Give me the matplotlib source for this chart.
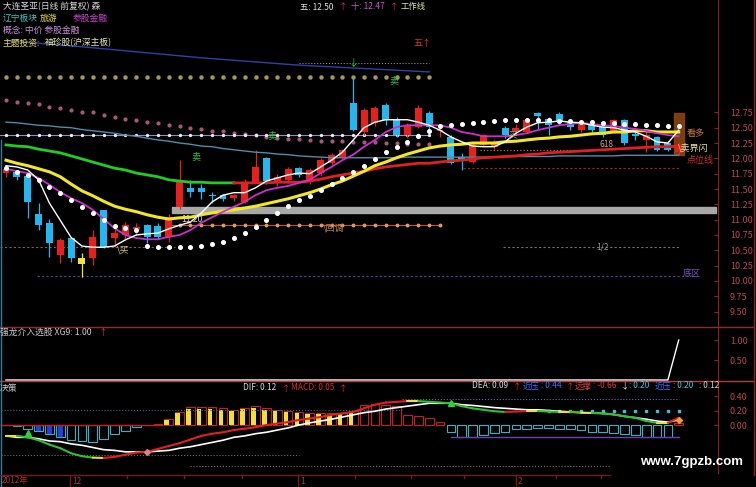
import numpy as np
import matplotlib
matplotlib.use("Agg")
import matplotlib.pyplot as plt
from matplotlib.lines import Line2D
from matplotlib.patches import Rectangle

plt.rcParams['font.family'] = ['Noto Sans CJK SC', 'DejaVu Sans']
plt.rcParams['axes.unicode_minus'] = False

W, H = 756, 487

# K线 (63 根日线)
opens = [11.76,11.78,11.72,11.10,10.94,10.42,10.70,10.38,10.38,11.15,
         10.70,10.75,10.85,10.91,10.90,10.72,11.20,11.52,11.52,11.41,
         11.40,11.35,11.29,11.61,12.00,11.60,11.65,11.84,11.61,11.76,
         11.92,12.02,12.90,12.43,12.57,12.87,12.62,12.38,12.51,12.74,
         12.44,12.35,12.02,11.94,12.22,12.18,12.49,12.44,12.43,12.74,
         12.65,12.72,12.59,12.46,12.54,12.51,12.43,12.62,12.39,12.30,
         12.35,12.25,12.10]
closes = [11.82,11.70,11.28,10.91,10.62,10.67,10.37,10.27,10.72,10.55,
          10.78,10.91,10.88,10.72,10.72,11.04,11.61,11.45,11.45,11.39,
          11.33,11.40,11.60,11.86,11.63,11.70,11.82,11.73,11.81,11.97,
          12.05,12.14,12.46,12.79,12.82,12.62,12.38,12.54,12.82,12.51,
          12.46,11.92,11.96,12.22,12.38,12.27,12.38,12.49,12.62,12.69,
          12.54,12.59,12.51,12.57,12.46,12.38,12.62,12.25,12.37,12.38,
          12.14,12.14,12.22]
highs = [11.86,11.80,11.74,11.27,11.01,10.70,10.72,10.46,10.83,11.16,
         10.86,10.96,10.95,10.93,10.95,11.10,11.97,11.64,11.58,11.45,
         11.42,11.42,11.66,12.13,12.02,11.75,11.86,11.86,11.84,12.00,
         12.08,12.16,13.31,12.82,12.85,12.90,12.68,12.58,12.87,12.77,
         12.52,12.38,12.08,12.25,12.40,12.30,12.52,12.56,12.65,12.76,
         12.68,12.75,12.62,12.60,12.57,12.53,12.65,12.64,12.45,12.46,
         12.37,12.28,12.26]
lows = [11.70,11.65,11.03,10.83,10.39,10.29,10.31,10.07,10.26,10.54,
        10.55,10.67,10.75,10.62,10.68,10.64,11.18,11.37,11.33,11.27,
        11.30,11.30,11.27,11.60,11.58,11.55,11.60,11.70,11.58,11.72,
        11.88,12.00,12.44,12.38,12.52,12.55,12.35,12.33,12.49,12.46,
        12.35,11.90,11.81,11.92,12.20,12.15,12.33,12.40,12.41,12.48,
        12.38,12.55,12.47,12.43,12.43,12.35,12.41,12.22,12.30,12.10,
        12.12,12.12,12.06]
yellow_candle = 7

# 均线
ma5 = [11.88,11.86,11.81,11.65,11.27,10.99,10.71,10.57,10.55,10.55,
       10.57,10.67,10.75,10.77,10.78,10.85,10.91,10.96,11.11,11.29,
       11.40,11.44,11.44,11.52,11.63,11.68,11.73,11.76,11.75,11.86,
       11.97,12.10,12.30,12.50,12.59,12.63,12.63,12.63,12.59,12.54,
       12.46,12.35,12.27,12.20,12.19,12.19,12.27,12.41,12.51,12.58,
       12.59,12.61,12.59,12.58,12.54,12.51,12.50,12.46,12.43,12.36,
       12.27,12.25,12.46]
ma10 = [11.83,11.79,11.76,11.68,11.57,11.45,11.35,11.27,11.16,11.01,
        10.86,10.75,10.70,10.68,10.68,10.72,10.75,10.83,10.95,11.04,
        11.13,11.21,11.29,11.40,11.48,11.52,11.55,11.60,11.65,11.76,
        11.86,11.97,12.06,12.19,12.30,12.43,12.51,12.54,12.54,12.54,
        12.54,12.50,12.43,12.40,12.36,12.36,12.36,12.38,12.41,12.46,
        12.50,12.54,12.56,12.58,12.56,12.54,12.53,12.50,12.48,12.45,
        12.41,12.38,12.36]
ma20 = [11.97,11.92,11.88,11.83,11.78,11.70,11.58,11.47,11.39,11.30,
        11.22,11.17,11.13,11.08,11.04,11.01,11.03,11.04,11.08,11.11,
        11.14,11.16,11.19,11.22,11.26,11.30,11.34,11.39,11.44,11.50,
        11.57,11.63,11.71,11.79,11.88,11.94,12.01,12.07,12.12,12.17,
        12.20,12.22,12.23,12.25,12.25,12.25,12.27,12.28,12.30,12.32,
        12.33,12.35,12.36,12.38,12.40,12.41,12.43,12.43,12.45,12.45,
        12.43,12.43,12.43]
ma60 = [12.22,12.20,12.19,12.15,12.12,12.09,12.04,11.99,11.94,11.89,
        11.84,11.81,11.76,11.73,11.70,11.65,11.63,11.61,11.61,11.60,
        11.60,11.60,11.60,11.60,11.60,11.61,11.61,11.61,11.63,11.66,
        11.70,11.73,11.76,11.79,11.83,11.86,11.88,11.90,11.92,11.92,
        11.94,11.96,11.97,11.99,12.01,12.02,12.03,12.04,12.06,12.07,
        12.09,12.10,12.11,12.12,12.13,12.14,12.15,12.16,12.17,12.18,
        12.19,12.19,12.20]
ma60_green_end = 21
ma120 = [12.59,12.58,12.56,12.54,12.53,12.51,12.50,12.47,12.45,12.43,
         12.41,12.38,12.36,12.33,12.30,12.28,12.25,12.23,12.20,12.19,
         12.16,12.14,12.12,12.10,12.09,12.07,12.06,12.04,12.03,12.02,
         12.01,12.01,12.01,12.01,12.01,12.01,12.01,12.02,12.02,12.02,
         12.02,12.02,12.02,12.02,12.02,12.02,12.03,12.03,12.03,12.03,
         12.03,12.04,12.04,12.04,12.04,12.04,12.04,12.05,12.05,12.05,
         12.05,12.05,12.05]
sar = [11.84,11.78,11.73,11.65,11.53,11.44,11.32,11.21,11.11,10.99,
       10.90,10.86,10.83,10.57,10.55,10.55,10.55,10.55,10.57,10.60,
       10.64,10.70,10.78,10.88,10.99,11.11,11.22,11.32,11.39,11.48,
       11.58,11.68,11.78,11.88,11.99,12.10,12.19,12.27,12.36,12.45,
       12.53,12.54,12.56,12.58,12.59,12.61,12.63,12.63,12.63,12.63,
       12.63,12.61,12.61,12.59,12.59,12.58,12.58,12.56,12.56,12.54,
       12.54,12.53,12.53]
pink_dots = [12.95,12.92,12.90,12.88,12.84,12.82,12.79,12.76,12.75,12.71,
             12.68,12.65,12.63,12.60,12.57,12.54,12.52,12.49,12.48,12.45,
             12.44,12.42,12.40,12.38,12.35,12.34,12.32,12.31,12.30,12.29,
             12.28,12.28,12.27,12.27,12.26,12.25,12.25,12.24,12.23,12.23]
blue_idx = [0, 7, 18, 27, 39]
blue_val = [13.92, 13.82, 13.64, 13.52, 13.41]

# 水平位
khaki_level = 13.33
gray_top_level = 13.556
lavender_level = 12.38
band_lo, band_hi = 11.11, 11.21
pullback_level = 10.91
half_level = 10.55
bottom_level = 10.08
point_level = 11.84
fib_level = 12.14

# 副图
xg9 = [0.0] * 62 + [1.0]
hist = [0.0,-0.02,-0.05,-0.08,-0.12,-0.17,-0.21,-0.22,-0.23,-0.19,
        -0.13,-0.08,-0.03,0.0,0.01,0.08,0.18,0.25,0.25,0.25,
        0.23,0.21,0.24,0.26,0.23,0.21,0.20,0.18,0.17,0.17,
        0.16,0.17,0.20,0.28,0.29,0.28,0.26,0.14,0.13,0.09,
        0.04,-0.09,-0.16,-0.16,-0.14,-0.11,-0.09,-0.06,-0.05,-0.04,
        -0.04,-0.05,-0.06,-0.07,-0.09,-0.09,-0.11,-0.12,-0.14,-0.16,
        -0.16,-0.16,0.03]
dif = [-0.15,-0.15,-0.17,-0.21,-0.27,-0.32,-0.39,-0.43,-0.45,-0.455,
       -0.44,-0.41,-0.38,-0.37,-0.33,-0.29,-0.25,-0.20,-0.15,-0.12,
       -0.10,-0.07,-0.05,-0.03,0.0,0.02,0.04,0.07,0.09,0.11,
       0.14,0.16,0.18,0.23,0.28,0.31,0.32,0.33,0.33,0.32,
       0.31,0.30,0.26,0.23,0.21,0.19,0.18,0.186,0.193,0.193,
       0.186,0.18,0.18,0.17,0.166,0.16,0.145,0.12,0.10,0.055,
       0.03,0.03,0.10]
dea = [-0.15,-0.17,-0.17,-0.19,-0.22,-0.23,-0.26,-0.28,-0.31,-0.34,
       -0.35,-0.37,-0.37,-0.37,-0.36,-0.35,-0.32,-0.30,-0.27,-0.24,
       -0.21,-0.17,-0.15,-0.12,-0.10,-0.07,-0.04,0.0,0.03,0.055,
       0.08,0.11,0.14,0.17,0.19,0.22,0.24,0.26,0.28,0.30,
       0.30,0.30,0.28,0.27,0.255,0.24,0.23,0.22,0.21,0.21,
       0.20,0.19,0.18,0.17,0.166,0.16,0.145,0.12,0.10,0.08,
       0.055,0.04,0.07]

RED, CYAN, YEL = '#e8201c', '#24b6ee', '#f4e040'

fig = plt.figure(figsize=(W / 100, H / 100), dpi=100, facecolor='black')

def rect(y0, y1):
    return [0, 1 - y1 / H, 718 / W, (y1 - y0) / H]

ax = fig.add_axes(rect(0, 327))
ax2 = fig.add_axes(rect(327, 381))
ax3 = fig.add_axes(rect(381, 473))
for a in (ax, ax2, ax3):
    a.set_facecolor('black')
    a.set_xlim(-0.553, 65.62)
    for s in ('left', 'top', 'bottom'):
        a.spines[s].set_visible(False)
    a.spines['right'].set_color('#8c2020')
    a.yaxis.tick_right()
    a.tick_params(axis='y', colors='#8c2020', labelcolor='#b84a4a',
                  labelsize=6.5, direction='in', length=3, pad=8.5)
    a.tick_params(axis='x', bottom=False, labelbottom=False)

ax.set_ylim(9.249, 14.583)
ax.set_yticks(np.arange(9.5, 12.76, 0.25))
ax.set_yticklabels(['%.2f' % v for v in np.arange(9.5, 12.76, 0.25)])
ax2.set_ylim(-0.025, 1.325)
ax2.set_yticks([0.5, 1.0])
ax2.set_yticklabels(['0.50', '1.00'])
ax3.set_ylim(-0.662, 0.607)
ax3.set_yticks([0.0, 0.2, 0.4])
ax3.set_yticklabels(['0.00', '0.20', '0.40'])

x = np.arange(len(closes))
o, c = np.array(opens), np.array(closes)

# 背景水平线
ax.plot(x[:40], [khaki_level] * 40, ls='none', marker='o', ms=2.2, color='#a89858', zorder=2)
ax.plot([27, 39], [gray_top_level] * 2, ls=':', lw=0.8, color='#909090', zorder=2)
ax.plot(blue_idx, blue_val, color='#3040a8', lw=1.0, zorder=2)
ax.plot(x[:40], pink_dots, ls='none', marker='o', ms=2.0, color='#a85878', zorder=2)
ax.plot([-0.55, 39], [lavender_level] * 2, color='#9a88c8', lw=0.8, zorder=2)
ax.plot(x[:40], [lavender_level] * 40, ls='none', marker='o', ms=1.4, color='#e8e8ff', zorder=2)
ax.add_patch(Rectangle((15.3, band_lo), 50.1, band_hi - band_lo, color='#a8a8a8', zorder=2))
ax.plot([15, 40], [pullback_level] * 2, color='#b05a30', lw=0.8, zorder=2)
ax.plot(x[15:41], [pullback_level] * 26, ls='none', marker='o', ms=1.8, color='#e09868', zorder=2)
ax.plot([-0.55, 15.6], [half_level] * 2, ls=(0, (2, 2)), lw=0.8, color='#8a5a5a', zorder=2)
ax.plot([45.8, 62.1], [half_level] * 2, ls=(0, (2, 2)), lw=0.8, color='#707070', zorder=2)
ax.plot([2.9, 63], [bottom_level] * 2, ls=(0, (2, 2)), lw=0.8, color='#6a3a9a', zorder=2)
ax.plot([42.1, 62.1], [point_level] * 2, ls=(0, (2, 2)), lw=0.8, color='#b02020', zorder=2)
ax.plot([43.7, 54.3], [fib_level] * 2, ls=':', lw=0.9, color='#c07070', zorder=2)

# 最后一根的标记框
ax.add_patch(Rectangle((61.6, 12.05), 0.9, 0.69, color='#8a4410', alpha=0.9, zorder=2))

# K线
col = np.where(c >= o, RED, CYAN).astype(object)
col[yellow_candle] = YEL
ax.vlines(x, lows, highs, colors=list(col), lw=0.9, zorder=3)
ax.bar(x, np.maximum(np.abs(c - o), 0.012), bottom=np.minimum(o, c), width=0.64,
       color=list(col), lw=0, zorder=4)

# 均线
ax.plot(x, ma120, color='#4d8ea8', lw=1.0, zorder=5)
ax.plot(x[:ma60_green_end + 1], ma60[:ma60_green_end + 1], color='#22cc22', lw=2.0, zorder=5)
ax.plot(x[ma60_green_end:], ma60[ma60_green_end:], color='#e02020', lw=2.0, zorder=5)
ax.plot(x, ma20, color='#f2e822', lw=2.2, zorder=5)
ax.plot(x, ma10, color='#cc30cc', lw=1.3, zorder=5)
ax.plot(x, ma5, color='white', lw=1.0, zorder=6)
ax.plot(x, sar, ls='none', marker='o', ms=2.6, color='white', zorder=6)

# 文字标注
def t(i, p, s, color, size=6.5, **kw):
    ax.text(i, p, s, color=color, fontsize=size, va='center', zorder=8, **kw)

t(17.1, 12.02, '卖', '#30c040')
t(24.1, 12.36, '卖', '#30c040')
t(35.3, 13.25, '卖', '#30c040')
t(31.6, 13.57, '↓', '#30d040', size=7)
t(10.2, 10.50, '\\买', '#d8c850')
t(46.2, 12.38, '\\买', '#b0a870', size=6)
t(29.2, 10.86, '\\回调', '#c08050')
t(16.2, 11.01, '11.20', '#d0d0d0', size=6.2)
t(54.4, 10.55, '1/2', '#909090', size=6)
t(62.4, 10.13, '底区', '#7a50c0')
t(54.7, 12.23, '618', '#d0a0a0', size=6)
t(62.7, 12.41, '看多', '#d07830')
t(61.9, 12.18, '\\卖界闪', '#e8e0a0')
t(62.7, 11.97, '点位线', '#e02828')
t(37.6, 13.88, '五↑', '#e03030')

# XG9
ax2.plot(x, xg9, color='white', lw=1.0)

# MACD
xv = np.array(x, dtype=float)
hv = np.array(hist)
pos = hv > 0
ax3.hlines(0, -0.55, 14.5, color='#c02020', lw=1.0)
ax3.plot([-0.5, 36.5], [0.21, 0.21], ls=':', lw=0.8, color='#405c80')
ax3.plot([36.5, 62], [0.36, 0.36], ls=':', lw=0.8, color='#5078c0')
ax3.plot(x[50:63], [0.19] * 13, ls='none', marker='s', ms=1.5, color='#40c0e0')
ax3.plot([-0.5, 27], [-0.41, -0.41], ls=':', lw=0.8, color='#707070')
ax3.plot([17, 55.7], [-0.57, -0.57], ls=':', lw=0.8, color='#707070')
ax3.plot([41, 62], [-0.17, -0.17], color='#7040b0', lw=1.0)
ax3.bar(xv[pos], hv[pos], width=0.8, fill=False, edgecolor='#c02020', lw=0.8)
ax3.bar(xv[~pos], hv[~pos], width=0.8, fill=False, edgecolor='#38b0c0', lw=0.8)
ax3.bar(xv[15:33] - 0.2, hv[15:33] * 0.9, width=0.42, color='#f0e030', lw=0)
ax3.bar(xv[3:6], hv[3:6], width=0.45, color='#2040e0', lw=0)
ax3.plot(x, dea, color='white', lw=1.2, zorder=5)
for i in range(len(dif) - 1):
    d = dif[i + 1] - dif[i]
    cc = '#e8e040' if abs(d) < 0.006 else ('#e02020' if d > 0 else '#30c030')
    ax3.plot([i, i + 1], [dif[i], dif[i + 1]], color=cc, lw=1.5, zorder=6,
             solid_capstyle='round')
ax3.plot([2], [-0.11], marker='^', ms=4, color='#30d040', zorder=7)
ax3.plot([13], [-0.37], marker='D', ms=3, color='#e08080', zorder=7)
ax3.plot([41], [0.31], marker='^', ms=4, color='#30d040', zorder=7)
ax3.plot([62], [0.07], marker='D', ms=3, color='#f0a030', zorder=7)

# 图框线
def fl(x0, y0, x1, y1, color, lw=1.0):
    fig.add_artist(Line2D([x0 / W, x1 / W], [1 - y0 / H, 1 - y1 / H], color=color, lw=lw))

fl(0, 327, 754, 327, '#a02424')
fl(0, 381, 754, 381, '#b04040')
fl(754, 0, 754, 475, '#8c2020')
fl(1, 140, 1, 487, '#2c7c9c')
fl(0, 475, 610, 475, '#7a1a1a')
for xx in (70, 298, 516):
    fl(xx, 475, xx, 487, '#7a1a1a')
for xx in (127, 184, 242, 355, 411, 464, 556, 601):
    fl(xx, 475, xx, 478, '#7a1a1a')

def ftxt(px, py, s, color, size=6.3, **kw):
    fig.text(px / W, 1 - py / H, s, color=color, fontsize=size, va='center', ha='left', **kw)

ftxt(3, 7, '大连圣亚(日线 前复权) 森', '#d8d8d8')
ftxt(3, 18, '辽宁板块', '#38c8c8')
ftxt(40, 18, '旅游', '#e8e040')
ftxt(73, 18, '参股金融', '#d040d0')
ftxt(3, 30, '概念: 中价 参股金融', '#c890d8')
ftxt(3, 43, '主题投资:', '#e8d840')
ftxt(45, 43, '袖珍股(沪深主板)', '#e8e8b0')
ftxt(300, 7, '五: 12.50', '#e0e0e0', size=6)
ftxt(339, 7, '↑', '#e03030', size=6)
ftxt(351, 7, '十: 12.47', '#d050d0', size=6)
ftxt(390, 7, '↑', '#e03030', size=6)
ftxt(401, 7, '工作线', '#e8e8b0', size=6)

ftxt(0, 332, '强龙介入选股 XG9: 1.00', '#c8c8c8')
ftxt(99, 332, '↑', '#e03030')
ftxt(0, 389, '决策', '#d0d0d0')
ftxt(243, 388, 'DIF: 0.12', '#d8d8d8', size=6)
ftxt(282, 388, '↑', '#e03030', size=6)
ftxt(291, 388, 'MACD: 0.05', '#d03030', size=6)
ftxt(339, 388, '↑', '#e03030', size=6)
ftxt(472, 386, 'DEA: 0.09', '#d8d8d8', size=6)
ftxt(513, 386, '↑', '#e03030', size=6)
ftxt(523, 386, '近压', '#4070ff', size=6)
ftxt(541, 386, ': 0.44', '#4070ff', size=6)
ftxt(566, 386, '↑', '#e03030', size=6)
ftxt(575, 386, '远撑', '#d04040', size=6)
ftxt(593, 386, ': -0.66', '#d04040', size=6)
ftxt(621, 386, '↓', '#e0e0e0', size=6)
ftxt(629, 386, ': 0.20', '#40c8e0', size=6)
ftxt(655, 386, '近压', '#4070ff', size=6)
ftxt(673, 386, ': 0.20', '#40c8e0', size=6)
ftxt(699, 386, ': 0.12', '#d0d0d0', size=6)

ftxt(2, 481, '2012年', '#b03030', size=6)
ftxt(72, 481, '12', '#b03030', size=6)
ftxt(300, 481, '1', '#b03030', size=6)
ftxt(518, 481, '2', '#b03030', size=6)
fig.text(640 / W, 1 - 462 / H, 'www.7gpzb.com', color='white', fontsize=9.5,
         fontweight='bold', family='Liberation Sans', va='center', ha='left')

fig.savefig('out.png', dpi=100, facecolor='black')
